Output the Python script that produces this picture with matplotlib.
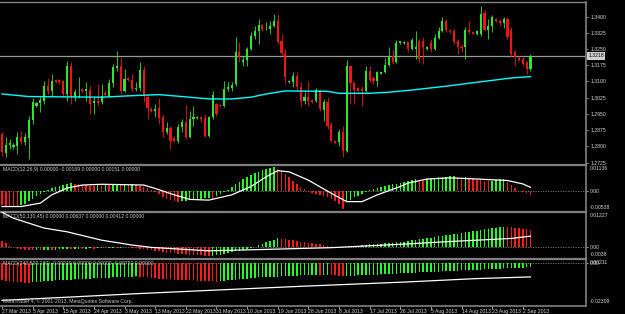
import matplotlib
matplotlib.use('Agg')
import matplotlib.pyplot as plt
import numpy as np

plt.rcParams['font.family'] = ['Liberation Sans', 'DejaVu Sans']

# daily bars 27 Mar 2013 .. 4 Sep 2013 (broker has sunday bars)
opens = [1.2857, 1.2767, 1.2807, 1.2795, 1.2803, 1.2841, 1.2818, 1.2838, 1.2922, 1.2986,
         1.2999, 1.3011, 1.3081, 1.3057, 1.3108, 1.3108, 1.3101, 1.3042, 1.3173, 1.3027,
         1.3027, 1.3065, 1.3057, 1.3062, 1.2999, 1.3011, 1.3003, 1.3045, 1.3034, 1.3091,
         1.3162, 1.3173, 1.3057, 1.3116, 1.3108, 1.3065, 1.3068, 1.3155, 1.3030, 1.2973,
         1.2962, 1.2977, 1.2934, 1.2868, 1.2883, 1.2837, 1.2823, 1.2888, 1.2911, 1.2845,
         1.2925, 1.2931, 1.2934, 1.2931, 1.2849, 1.2934, 1.2996, 1.2993, 1.2988, 1.3065,
         1.3070, 1.3088, 1.3238, 1.3189, 1.3201, 1.3250, 1.3309, 1.3332, 1.3361, 1.3341,
         1.3344, 1.3358, 1.3381, 1.3286, 1.3230, 1.3096, 1.3096, 1.3124, 1.3076, 1.3008,
         1.3030, 1.3014, 1.3011, 1.3061, 1.2968, 1.3003, 1.2900, 1.2826, 1.2818, 1.2865,
         1.2777, 1.3170, 1.3091, 1.3070, 1.3065, 1.3057, 1.3147, 1.3116, 1.3104, 1.3135,
         1.3142, 1.3178, 1.3216, 1.3189, 1.3277, 1.3277, 1.3281, 1.3250, 1.3250, 1.3289,
         1.3289, 1.3250, 1.3277, 1.3250, 1.3301, 1.3332, 1.3378, 1.3335, 1.3332, 1.3289,
         1.3261, 1.3258, 1.3338, 1.3327, 1.3317, 1.3320, 1.3415, 1.3338, 1.3354, 1.3389,
         1.3378, 1.3369, 1.3389, 1.3338, 1.3235, 1.3209, 1.3202, 1.3189, 1.3158]
highs = [1.2865, 1.2841, 1.2834, 1.2814, 1.2865, 1.2872, 1.2860, 1.2942, 1.3023, 1.3007,
         1.3027, 1.3101, 1.3116, 1.3135, 1.3111, 1.3111, 1.3107, 1.3196, 1.3189, 1.3065,
         1.3122, 1.3070, 1.3096, 1.3081, 1.3027, 1.3088, 1.3088, 1.3061, 1.3111, 1.3181,
         1.3240, 1.3212, 1.3158, 1.3122, 1.3135, 1.3096, 1.3189, 1.3173, 1.3042, 1.2980,
         1.2996, 1.3023, 1.2949, 1.2911, 1.2895, 1.2849, 1.2903, 1.2926, 1.2993, 1.2965,
         1.2988, 1.2942, 1.2942, 1.2949, 1.2942, 1.3054, 1.2999, 1.2996, 1.3104, 1.3096,
         1.3096, 1.3304, 1.3281, 1.3219, 1.3258, 1.3327, 1.3358, 1.3389, 1.3366, 1.3374,
         1.3378, 1.3412, 1.3412, 1.3320, 1.3250, 1.3107, 1.3142, 1.3142, 1.3096, 1.3050,
         1.3104, 1.3019, 1.3070, 1.3065, 1.3019, 1.3027, 1.2911, 1.2829, 1.2880, 1.2895,
         1.3199, 1.3173, 1.3104, 1.3073, 1.3081, 1.3170, 1.3173, 1.3127, 1.3150, 1.3145,
         1.3209, 1.3258, 1.3250, 1.3292, 1.3289, 1.3286, 1.3289, 1.3301, 1.3335, 1.3297,
         1.3304, 1.3266, 1.3297, 1.3320, 1.3351, 1.3397, 1.3389, 1.3341, 1.3343, 1.3297,
         1.3273, 1.3351, 1.3381, 1.3332, 1.3338, 1.3451, 1.3428, 1.3389, 1.3405, 1.3394,
         1.3389, 1.3397, 1.3397, 1.3351, 1.3246, 1.3219, 1.3219, 1.3196, 1.3225]
lows = [1.2757, 1.2749, 1.2787, 1.2787, 1.2764, 1.2811, 1.2807, 1.2741, 1.2903, 1.2980,
        1.2957, 1.2996, 1.3042, 1.3034, 1.3094, 1.3088, 1.3027, 1.3011, 1.2996, 1.3011,
        1.3023, 1.3050, 1.3011, 1.2949, 1.2949, 1.2988, 1.2996, 1.3027, 1.3027, 1.3073,
        1.3150, 1.3042, 1.3050, 1.3101, 1.3057, 1.3057, 1.3057, 1.3003, 1.2926, 1.2957,
        1.2934, 1.2903, 1.2841, 1.2857, 1.2787, 1.2818, 1.2814, 1.2865, 1.2834, 1.2838,
        1.2895, 1.2926, 1.2911, 1.2841, 1.2841, 1.2926, 1.2942, 1.2983, 1.2980, 1.3057,
        1.3057, 1.3081, 1.3189, 1.3173, 1.3173, 1.3243, 1.3297, 1.3273, 1.3335, 1.3338,
        1.3320, 1.3351, 1.3273, 1.3219, 1.3088, 1.3091, 1.3073, 1.3057, 1.2980, 1.2996,
        1.2988, 1.3002, 1.3003, 1.2965, 1.2919, 1.2880, 1.2818, 1.2811, 1.2803, 1.2749,
        1.2772, 1.2996, 1.2996, 1.3051, 1.2988, 1.3050, 1.3096, 1.3088, 1.3081, 1.3132,
        1.3138, 1.3173, 1.3181, 1.3184, 1.3273, 1.3273, 1.3235, 1.3246, 1.3204, 1.3189,
        1.3181, 1.3243, 1.3235, 1.3243, 1.3297, 1.3327, 1.3327, 1.3323, 1.3273, 1.3227,
        1.3235, 1.3204, 1.3320, 1.3317, 1.3314, 1.3312, 1.3335, 1.3297, 1.3327, 1.3374,
        1.3354, 1.3348, 1.3297, 1.3219, 1.3173, 1.3196, 1.3173, 1.3132, 1.3150]
closes = [1.2772, 1.2807, 1.2814, 1.2807, 1.2845, 1.2818, 1.2841, 1.2923, 1.3003, 1.2999,
          1.3016, 1.3077, 1.3057, 1.3104, 1.3098, 1.3096, 1.3042, 1.3173, 1.3027, 1.3053,
          1.3034, 1.3054, 1.3064, 1.2996, 1.3011, 1.2999, 1.3031, 1.3037, 1.3091, 1.3165,
          1.3173, 1.3057, 1.3111, 1.3107, 1.3065, 1.3070, 1.3155, 1.3034, 1.2977, 1.2962,
          1.2973, 1.2931, 1.2865, 1.2885, 1.2826, 1.2823, 1.2891, 1.2911, 1.2841, 1.2926,
          1.2934, 1.2937, 1.2925, 1.2849, 1.2934, 1.3037, 1.2949, 1.2986, 1.3065, 1.3073,
          1.3085, 1.3235, 1.3212, 1.3199, 1.3250, 1.3309, 1.3332, 1.3363, 1.3341, 1.3344,
          1.3358, 1.3381, 1.3281, 1.3230, 1.3119, 1.3102, 1.3124, 1.3073, 1.3011, 1.3030,
          1.3008, 1.3005, 1.3061, 1.2973, 1.3003, 1.2895, 1.2826, 1.2814, 1.2865, 1.2780,
          1.3173, 1.3091, 1.3061, 1.3054, 1.3054, 1.3147, 1.3107, 1.3104, 1.3142, 1.3142,
          1.3178, 1.3215, 1.3189, 1.3278, 1.3286, 1.3283, 1.3250, 1.3292, 1.3258, 1.3204,
          1.3258, 1.3258, 1.3250, 1.3301, 1.3332, 1.3378, 1.3338, 1.3327, 1.3281, 1.3258,
          1.3255, 1.3338, 1.3327, 1.3320, 1.3332, 1.3412, 1.3338, 1.3354, 1.3397, 1.3378,
          1.3369, 1.3389, 1.3304, 1.3227, 1.3212, 1.3199, 1.3181, 1.3158, 1.3218]

# moving average (cyan), read at some bars
ma_bar = [0, 7, 26, 34, 41, 47, 54, 60, 65, 69, 74, 85, 88, 96, 101, 107, 115, 124, 133, 138]
ma_val = [1.3042, 1.3030, 1.3027, 1.3034, 1.3039, 1.3030, 1.3019, 1.3019, 1.3027, 1.3042,
          1.3056, 1.3054, 1.3045, 1.3045, 1.3050, 1.3060, 1.3076, 1.3096, 1.3116, 1.3122]

# MACD(12,26,9)
macd1 = [-0.0038, -0.0040, -0.0041, -0.0042, -0.0043, -0.0039, -0.0034, -0.0028, -0.0021, -0.0014,
         -0.0008, -0.0003, 0.0002, 0.0006, 0.0010, 0.0013, 0.0016, 0.0019, 0.0021, 0.0019,
         0.0017, 0.0016, 0.0014, 0.0013, 0.0012, 0.0014, 0.0013, 0.0015, 0.0014, 0.0016,
         0.0018, 0.0017, 0.0019, 0.0017, 0.0018, 0.0015, 0.0013, 0.0010, 0.0006, 0.0002,
         -0.0004, -0.0010, -0.0016, -0.0021, -0.0025, -0.0028, -0.0030, -0.0028, -0.0026, -0.0025,
         -0.0023, -0.0022, -0.0021, -0.0020, -0.0019, -0.0022, -0.0015, -0.0009, -0.0004, 0.0003,
         0.0010, 0.0017, 0.0024, 0.0030, 0.0036, 0.0042, 0.0046, 0.0050, 0.0054, 0.0057,
         0.0060, 0.0062, 0.0058, 0.0052, 0.0044, 0.0035, 0.0026, 0.0017, 0.0010, 0.0004,
         -0.0002, -0.0006, -0.0009, -0.0011, -0.0013, -0.0016, -0.0021, -0.0027, -0.0034, -0.0048,
         -0.0030, -0.0024, -0.0018, -0.0013, -0.0008, -0.0004, 0.0001, 0.0005, 0.0008, 0.0010,
         0.0013, 0.0015, 0.0017, 0.0019, 0.0021, 0.0023, 0.0025, 0.0028, 0.0031, 0.0029,
         0.0027, 0.0030, 0.0032, 0.0034, 0.0035, 0.0036, 0.0037, 0.0038, 0.0039, 0.0036,
         0.0033, 0.0035, 0.0033, 0.0031, 0.0029, 0.0028, 0.0026, 0.0025, 0.0027, 0.0029,
         0.0030, 0.0031, 0.0024, 0.0016, 0.0007, -0.0002, -0.0004, -0.0006, -0.0011]
sig1_bar = [0, 5, 10, 13, 17, 21, 26, 37, 40, 45, 49, 54, 60, 65, 69, 72, 75, 80, 86, 90,
            94, 98, 104, 106, 111, 117, 124, 132, 136, 138]
sig1 = [-0.0042, -0.0042, -0.0033, -0.0011, 0.0007, 0.0015, 0.0017, 0.0015, 0.0006, -0.0011,
        -0.0023, -0.0025, -0.0011, 0.0011, 0.0037, 0.0053, 0.0050, 0.0028, -0.0007, -0.0029,
        -0.0029, -0.0011, 0.0011, 0.0020, 0.0031, 0.0034, 0.0031, 0.0027, 0.0018, 0.0009]

# MACD(50,130,45)
macd2 = [0.0022, 0.0016, 0.0006, -0.0002, -0.0005, -0.0007, -0.0008, -0.0009, -0.0010, -0.0009,
         -0.0010, -0.0009, -0.0008, -0.0009, -0.0008, -0.0007, -0.0006, -0.0005, -0.0006, -0.0005,
         -0.0004, -0.0005, -0.0004, -0.0003, -0.0004, -0.0003, -0.0002, -0.0003, -0.0002, -0.0001,
         -0.0002, -0.0001, 0.0000, -0.0001, -0.0002, -0.0003, -0.0004, -0.0006, -0.0008, -0.0010,
         -0.0012, -0.0014, -0.0016, -0.0018, -0.0019, -0.0021, -0.0022, -0.0023, -0.0024, -0.0025,
         -0.0026, -0.0027, -0.0028, -0.0029, -0.0030, -0.0029, -0.0027, -0.0025, -0.0023, -0.0020,
         -0.0017, -0.0014, -0.0011, -0.0008, -0.0005, -0.0002, 0.0002, 0.0007, 0.0012, 0.0017,
         0.0022, 0.0027, 0.0031, 0.0030, 0.0028, 0.0026, 0.0024, 0.0022, 0.0020, 0.0018,
         0.0016, 0.0014, 0.0012, 0.0010, 0.0008, 0.0006, 0.0004, 0.0002, 0.0000, -0.0003,
         0.0001, 0.0003, 0.0005, 0.0006, 0.0008, 0.0009, 0.0010, 0.0011, 0.0012, 0.0013,
         0.0014, 0.0015, 0.0016, 0.0017, 0.0019, 0.0020, 0.0022, 0.0024, 0.0026, 0.0028,
         0.0030, 0.0032, 0.0034, 0.0036, 0.0038, 0.0040, 0.0042, 0.0044, 0.0046, 0.0048,
         0.0050, 0.0052, 0.0054, 0.0056, 0.0058, 0.0060, 0.0062, 0.0064, 0.0066, 0.0068,
         0.0070, 0.0072, 0.0071, 0.0069, 0.0067, 0.0066, 0.0064, 0.0062, 0.0060]
sig2_bar = [0, 3, 11, 17, 26, 34, 39, 54, 69, 86, 106, 115, 124, 133, 138]
sig2 = [0.0122, 0.0101, 0.0067, 0.0054, 0.0025, 0.0008, 0.0000, -0.0012, -0.0007, -0.0001,
        0.0012, 0.0019, 0.0025, 0.0031, 0.0039]

# MACD(240,520,180)
macd3 = [-0.0095, -0.0097, -0.0099, -0.0101, -0.0103, -0.0105, -0.0107, -0.0108, -0.0106, -0.0104,
         -0.0102, -0.0100, -0.0098, -0.0097, -0.0095, -0.0094, -0.0092, -0.0091, -0.0090, -0.0089,
         -0.0088, -0.0087, -0.0086, -0.0085, -0.0084, -0.0083, -0.0082, -0.0081, -0.0080, -0.0079,
         -0.0078, -0.0077, -0.0076, -0.0075, -0.0074, -0.0073, -0.0075, -0.0077, -0.0079, -0.0081,
         -0.0083, -0.0085, -0.0087, -0.0088, -0.0089, -0.0090, -0.0091, -0.0092, -0.0093, -0.0094,
         -0.0095, -0.0096, -0.0097, -0.0098, -0.0099, -0.0100, -0.0101, -0.0099, -0.0097, -0.0095,
         -0.0093, -0.0091, -0.0089, -0.0087, -0.0085, -0.0083, -0.0081, -0.0079, -0.0078, -0.0077,
         -0.0076, -0.0075, -0.0074, -0.0073, -0.0072, -0.0071, -0.0070, -0.0069, -0.0068, -0.0067,
         -0.0066, -0.0065, -0.0064, -0.0066, -0.0065, -0.0064, -0.0066, -0.0068, -0.0070, -0.0072,
         -0.0071, -0.0070, -0.0069, -0.0068, -0.0067, -0.0066, -0.0065, -0.0064, -0.0063, -0.0062,
         -0.0061, -0.0060, -0.0059, -0.0058, -0.0057, -0.0056, -0.0055, -0.0054, -0.0053, -0.0052,
         -0.0051, -0.0050, -0.0049, -0.0048, -0.0047, -0.0046, -0.0045, -0.0044, -0.0043, -0.0042,
         -0.0041, -0.0040, -0.0039, -0.0038, -0.0037, -0.0036, -0.0035, -0.0034, -0.0033, -0.0032,
         -0.0031, -0.0030, -0.0029, -0.0028, -0.0027, -0.0026, -0.0025, -0.0024, -0.0022]
sig3_bar = [0, 17, 34, 54, 78, 106, 124, 138]
sig3 = [-0.0203, -0.0186, -0.0168, -0.0149, -0.0127, -0.0103, -0.0085, -0.0076]

date_labels = ['27 Mar 2013', '5 Apr 2013', '15 Apr 2013', '24 Apr 2013', '3 May 2013',
               '13 May 2013', '22 May 2013', '31 May 2013', '10 Jun 2013', '19 Jun 2013',
               '28 Jun 2013', '8 Jul 2013', '17 Jul 2013', '26 Jul 2013', '5 Aug 2013',
               '14 Aug 2013', '23 Aug 2013', '2 Sep 2013']
date_bars = list(range(0, 8 * len(date_labels), 8))   # MT4 puts a label every 8 bars here

GRID = '#808080'
TXT = '#d8d8d8'
UP, DN = '#2ee62e', '#f01414'
H_UP, H_DN = '#22ff22', '#ff1a1a'
FS = 3.7

fig = plt.figure(figsize=(6.25, 3.14), dpi=100, facecolor='black')
W = 586 / 625.0

def panel(top_px, bot_px):
    ax = fig.add_axes([0, 1 - bot_px / 314.0, W, (bot_px - top_px) / 314.0])
    ax.set_facecolor('black')
    ax.spines['left'].set_visible(False)
    ax.spines['right'].set_color(GRID)
    ax.spines['right'].set_linewidth(1.2)
    ax.spines['top'].set_color(GRID)
    ax.spines['top'].set_linewidth(1.6)
    ax.spines['bottom'].set_visible(False)
    ax.yaxis.tick_right()
    ax.tick_params(axis='y', labelsize=FS, colors=TXT, length=1.5, width=0.5, pad=1.5)
    ax.tick_params(axis='x', bottom=False, labelbottom=False)
    ax.set_xlim(-0.52, 152.5)
    return ax

ax0 = panel(1.5, 163.5)
ax1 = panel(165, 211)
ax2 = panel(212, 258.5)
ax3 = panel(259, 305.5)
ax0.spines['top'].set_linewidth(1.0)

# --- price window
x = np.arange(len(closes))
o = np.array(opens); c = np.array(closes)
up = c >= o
ax0.vlines(x, lows, highs, colors=np.where(up, UP, DN), lw=0.6, zorder=2)
body_lo = np.minimum(o, c)
body_h = np.maximum(np.abs(c - o), 0.0001)
ax0.bar(x, body_h, bottom=body_lo, width=0.55, color=np.where(up, UP, DN), linewidth=0, zorder=3)
ax0.plot(ma_bar, ma_val, color='#00ffff', lw=1.0, zorder=4)
ax0.axhline(closes[-1], color='#9a9a9a', lw=0.9, zorder=1)
ax0.set_ylim(1.27204, 1.34695)
pt = np.arange(1.2725, 1.34001, 0.0075)
ax0.set_yticks(pt)
ax0.set_yticklabels(['%.4f' % v for v in pt])
ax0.text(1.004, closes[-1], '%.4f' % closes[-1], transform=ax0.get_yaxis_transform(),
         fontsize=FS, color='black', va='center', ha='left',
         bbox=dict(facecolor='#d0d0d0', edgecolor='none', pad=0.8))

# --- MACD windows
def macd_panel(ax, hist, sbar, sval, lo, hi, lo_txt, hi_txt, title):
    h = np.array(hist)
    d = np.diff(h, prepend=h[0])
    ax.axhline(0, color=GRID, lw=0.6, ls=(0, (1.5, 1.5)), zorder=1)
    ax.bar(np.arange(len(h)), h, width=0.4, color=np.where(d > 0, H_UP, H_DN), linewidth=0, zorder=2)
    ax.plot(sbar, sval, color='white', lw=0.9, zorder=3)
    ax.set_ylim(lo, hi)
    ax.set_yticks([0])
    ax.set_yticklabels(['0.00'])
    ax.text(1.006, 0.97, hi_txt, transform=ax.transAxes, fontsize=FS, color=TXT, va='top', ha='left')
    ax.text(1.006, 0.03, lo_txt, transform=ax.transAxes, fontsize=FS, color=TXT, va='bottom', ha='left')
    ax.text(0.005, 0.95, title, transform=ax.transAxes, fontsize=FS, color='#c8c8c8', va='top', ha='left')

macd_panel(ax1, macd1, sig1_bar, sig1, -0.00538, 0.00681, '-0.00538', '0.01136',
           'MACD(12,26,9) 0.00000 -0.00169 0.00000 0.00151 0.00000')
macd_panel(ax2, macd2, sig2_bar, sig2, -0.00386, 0.01227, '-0.0038', '0.01227',
           'MACD(50,130,45) 0.00000 0.00637 0.00000 0.00412 0.00000')
macd_panel(ax3, macd3, sig3_bar, sig3, -0.02309, 0.00211, '-0.02309', '0.00211',
           'MACD(240,520,180) -0.00210 0.00000 0.00000 -0.00790 0.00000')
ax3.text(0.005, 0.04, 'MetaTrader 4, \u00a9 2001-2013, MetaQuotes Software Corp.',
         transform=ax3.transAxes, fontsize=FS, color='#c8c8c8', va='bottom', ha='left')

ax3.spines['bottom'].set_visible(True)
ax3.spines['bottom'].set_color(GRID)
ax3.spines['bottom'].set_linewidth(1.2)
ax3.tick_params(axis='x', bottom=True, labelbottom=True, labelsize=FS, colors=TXT,
                length=2, width=0.5, pad=0.8)
ax3.set_xticks(date_bars)
ax3.set_xticklabels(date_labels, ha='left')

fig.savefig('out.png', dpi=100, facecolor='black')
